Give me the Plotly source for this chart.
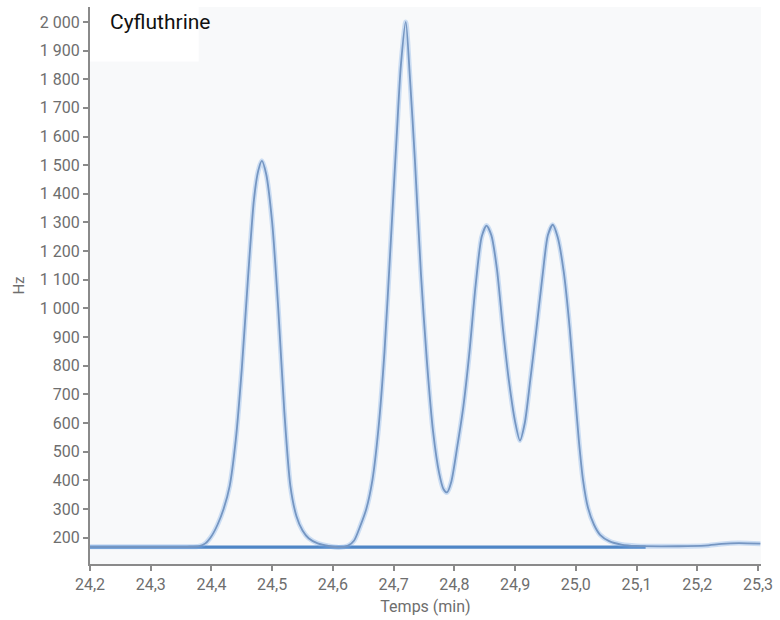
import plotly.graph_objects as go

# Chromatogram signal for cyfluthrine (time in min, detector response in Hz)
time_min = [
    24.200, 24.300, 24.360, 24.380, 24.390, 24.400, 24.410, 24.420, 24.430, 24.440,
    24.450, 24.460, 24.470, 24.477, 24.483,
    24.490, 24.500, 24.510, 24.520, 24.530, 24.540, 24.550, 24.560, 24.575, 24.595,
    24.610,
    24.625, 24.635, 24.645, 24.655, 24.665, 24.675, 24.685, 24.695, 24.705, 24.712,
    24.720,
    24.727, 24.735, 24.745, 24.755, 24.765, 24.775, 24.782, 24.788,
    24.795, 24.805, 24.815, 24.825, 24.835, 24.845, 24.853,
    24.861, 24.870, 24.880, 24.890, 24.900, 24.908,
    24.916, 24.925, 24.935, 24.945, 24.954, 24.962,
    24.970, 24.980, 24.990, 24.998, 25.005, 25.012, 25.020, 25.030, 25.040, 25.055,
    25.075, 25.100,
    25.169, 25.213, 25.240, 25.268, 25.304,
]
signal_hz = [
    168, 168, 168, 170, 180, 205, 245, 300, 380, 540,
    790, 1100, 1380, 1480, 1515,
    1470, 1300, 1000, 640, 380, 275, 225, 198, 180, 170,
    166,
    172, 190, 240, 300, 400, 580, 850, 1220, 1600, 1850,
    2000,
    1800, 1520, 1120, 810, 570, 425, 370, 358,
    395, 520, 660, 850, 1080, 1250, 1289,
    1255, 1140, 930, 745, 605, 539,
    600, 750, 925, 1110, 1255, 1292,
    1250, 1130, 930, 720, 540, 400, 305, 245, 210, 188,
    176, 171,
    170, 172, 178, 181, 179,
]

# Integration baseline drawn under the peaks
baseline_time = [24.200, 25.115]
baseline_hz = [167, 167]

y_ticks = list(range(200, 2001, 100))
x_ticks = [24.2, 24.3, 24.4, 24.5, 24.6, 24.7, 24.8, 24.9, 25.0, 25.1, 25.2, 25.3]

fig = go.Figure()

fig.add_trace(go.Scatter(
    x=baseline_time, y=baseline_hz, mode="lines",
    line=dict(color="#4f86c6", width=3.2),
    hoverinfo="skip", showlegend=False,
))
# soft halo under the signal line
fig.add_trace(go.Scatter(
    x=time_min, y=signal_hz, mode="lines",
    line=dict(color="rgba(120,170,230,0.35)", width=5, shape="spline", smoothing=0.7),
    hoverinfo="skip", showlegend=False,
))
fig.add_trace(go.Scatter(
    x=time_min, y=signal_hz, mode="lines",
    line=dict(color="#7596c2", width=1.8, shape="spline", smoothing=0.7),
    name="Cyfluthrine", showlegend=False,
))

# white label box in the top-left corner of the plot area
fig.add_shape(
    type="rect", xref="paper", yref="paper",
    x0=0, x1=0.162, y0=0.902, y1=1,
    fillcolor="white", line=dict(width=0), layer="below",
)
fig.add_annotation(
    text="Cyfluthrine", xref="paper", yref="paper",
    x=0.027, y=0.973, xanchor="left", yanchor="middle",
    showarrow=False, font=dict(size=21, color="#111111"),
)

axis_color = "#8a8a8a"
fig.update_xaxes(
    range=[24.2, 25.305], tickvals=x_ticks, tickformat=".1f",
    showgrid=False, zeroline=False,
    showline=True, linecolor=axis_color, linewidth=1.5,
    ticks="outside", ticklen=5, tickcolor=axis_color, tickwidth=1.5,
    tickfont=dict(size=16, color="#6e6e6e"),
    title=dict(text="Temps (min)", font=dict(size=16, color="#6e6e6e"), standoff=8),
)
fig.update_yaxes(
    range=[108, 2052], tickvals=y_ticks, separatethousands=True,
    showgrid=False, zeroline=False,
    showline=True, linecolor=axis_color, linewidth=2,
    ticks="outside", ticklen=5, tickcolor=axis_color, tickwidth=1.5,
    tickfont=dict(size=16, color="#6e6e6e"),
    title=dict(text="Hz", font=dict(size=15, color="#6e6e6e"), standoff=12),
)

fig.update_layout(
    width=780, height=620,
    margin=dict(l=90, r=18, t=7, b=53),
    paper_bgcolor="white", plot_bgcolor="#f8f9fa",
    separators=", ",
    font=dict(family="Roboto, sans-serif"),
)

fig.write_html("out.html")
